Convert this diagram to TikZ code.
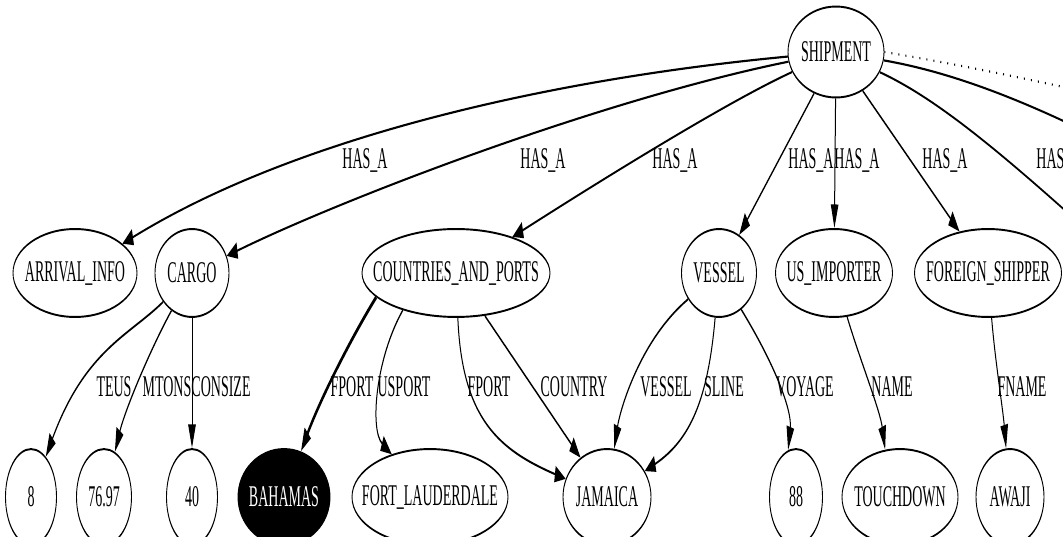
\documentclass[tikz,border=0pt]{standalone}
\usepackage{fontspec}
\setmainfont{Liberation Serif}
\usetikzlibrary{shapes.geometric,arrows.meta}

\begin{document}
\begin{tikzpicture}[x=1pt,y=-1pt]
  \useasboundingbox (0,0) rectangle (1063,536);
  \clip (0,0) rectangle (1063,536);
  % drawn flat, then stretched tall like the dot output
  \begin{scope}[transform canvas={yscale=2.15},y=-0.4651pt,
      >={Triangle[length=11pt,width=7.5pt]},
      every node/.style={font=\fontsize{14}{14}\selectfont},
      ent/.style={draw,ellipse,line width=0.9pt,inner sep=0pt,minimum width=#1,
        execute at begin node={\hbox to 0pt\bgroup\hss},
        execute at end node={\hss\egroup}},
      mid/.style={ent=#1,minimum height=40.9pt},
      bot/.style={ent=#1,minimum height=44.6pt},
      lbl/.style={inner sep=0pt},
      rel/.style={->,line width=1pt}]

    \node[ent=96pt,minimum height=42.3pt] (shipment) at (836,52) {SHIPMENT};

    \node[mid=124pt] (arrival) at (75,273) {ARRIVAL\_INFO};
    \node[mid=74pt] (cargo) at (192,273) {CARGO};
    \node[mid=188pt] (ports) at (456,273) {COUNTRIES\_AND\_PORTS};
    \node[mid=75pt] (vessel) at (719,273) {VESSEL};
    \node[mid=117pt] (importer) at (834,273) {US\_IMPORTER};
    \node[mid=147pt] (shipper) at (988,273) {FOREIGN\_SHIPPER};

    \node[bot=51pt] (n8) at (31,497) {8};
    \node[bot=55pt] (n7697) at (104,497) {76.97};
    \node[bot=51pt] (n40) at (192,497) {40};
    \node[bot=92pt,fill=black,text=white] (bahamas) at (284,497) {BAHAMAS};
    \node[bot=156pt] (lauderdale) at (430,497) {FORT\_LAUDERDALE};
    \node[bot=88pt] (jamaica) at (607,497) {JAMAICA};
    \node[bot=53pt] (n88) at (796,497) {88};
    \node[bot=116pt] (touchdown) at (900,497) {TOUCHDOWN};
    \node[bot=68pt] (awaji) at (1010,497) {AWAJI};

    % nodes past the right edge
    \coordinate (offa) at (1120,260);
    \coordinate (offb) at (1160,170);
    \coordinate (offc) at (1200,118);

    \draw[rel] (shipment) .. controls (540,80) and (290,140) .. (arrival);
    \draw[rel] (shipment) .. controls (600,100) and (340,200) .. (cargo);
    \draw[rel] (shipment) .. controls (720,105) and (570,200) .. (ports);
    \draw[rel] (shipment) -- (vessel);
    \draw[rel] (shipment) -- (importer);
    \draw[rel] (shipment) -- (shipper);
    \draw[rel] (shipment) .. controls (940,100) and (1010,160) .. (offa);
    \draw[rel] (shipment) .. controls (950,72) and (1030,100) .. (offb);
    \draw[rel,dash pattern=on 1pt off 6pt] (shipment.east) .. controls (980,68) and (1080,90) .. (offc);

    \node[lbl] (hasArrival) at (365,160) {HAS\_A};
    \node[lbl] (hasCargo) at (543,160) {HAS\_A};
    \node[lbl] (hasPorts) at (675,160) {HAS\_A};
    \node[lbl] (hasVessel) at (811,160) {HAS\_A};
    \node[lbl] (hasImporter) at (857,160) {HAS\_A};
    \node[lbl] (hasShipper) at (945,160) {HAS\_A};
    \node[lbl] (hasOff) at (1059,160) {HAS\_A};

    \draw[rel] (cargo) .. controls (130,335) and (85,350) .. (n8);
    \draw[rel] (cargo) .. controls (150,350) and (125,410) .. (n7697);
    \draw[rel] (cargo) -- (n40);
    \draw[rel,line width=2pt] (ports.188) .. controls (350,340) and (320,400) .. (bahamas);
    \draw[rel] (ports.198) .. controls (375,360) and (370,430) .. (lauderdale);
    \draw[rel] (ports) .. controls (462,420) and (500,450) .. (jamaica);
    \draw[rel] (ports) -- (jamaica);
    \draw[rel] (vessel) .. controls (640,340) and (620,410) .. (jamaica);
    \draw[rel] (vessel) .. controls (708,400) and (690,440) .. (jamaica);
    \draw[rel] (vessel) .. controls (775,365) and (792,410) .. (n88.110);
    \draw[rel] (importer) .. controls (860,360) and (880,410) .. (touchdown.124);
    \draw[rel] (shipper) .. controls (995,360) and (1003,410) .. (awaji);

    \node[lbl] (teusL) at (114,387) {TEUS};
    \node[lbl] (mtonsL) at (167,387) {MTONS};
    \node[lbl] (consizeL) at (221,387) {CONSIZE};
    \node[lbl] (fportL) at (352,387) {FPORT};
    \node[lbl] (usportL) at (404,387) {USPORT};
    \node[lbl] (fportJL) at (489,387) {FPORT};
    \node[lbl] (countryL) at (574,387) {COUNTRY};
    \node[lbl] (vesselL) at (666,387) {VESSEL};
    \node[lbl] (slineL) at (724,387) {SLINE};
    \node[lbl] (voyageL) at (805,387) {VOYAGE};
    \node[lbl] (nameL) at (892,387) {NAME};
    \node[lbl] (fnameL) at (1022,387) {FNAME};
  \end{scope}
\end{tikzpicture}
\end{document}
